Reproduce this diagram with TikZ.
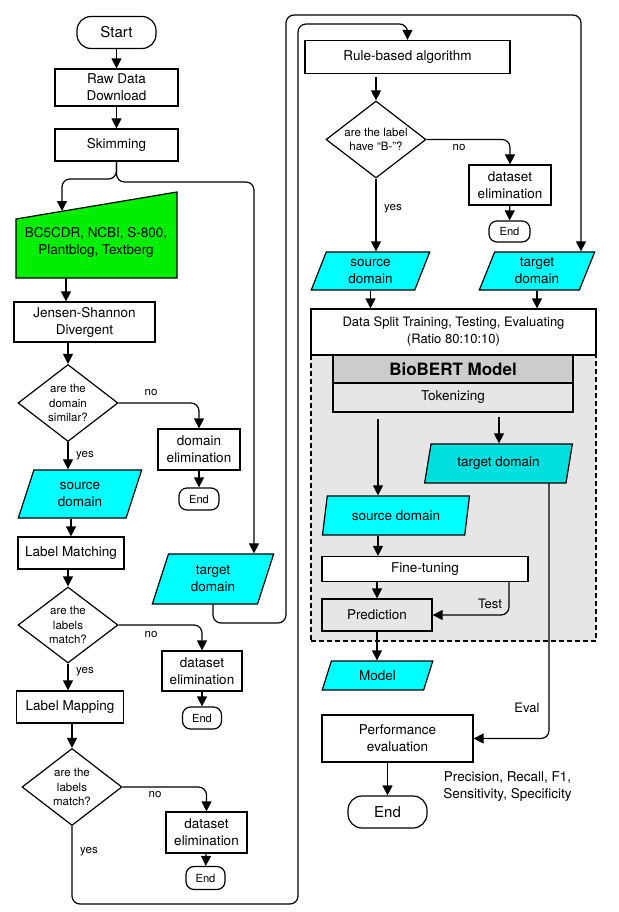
\documentclass[tikz,border=0pt]{standalone}
\usepackage{fontspec}
\setmainfont{TeX Gyre Heros}
\usetikzlibrary{shapes.geometric, arrows.meta}
\definecolor{cyanC}{RGB}{0,255,255}
\definecolor{cyanD}{RGB}{0,222,222}
\definecolor{greenC}{RGB}{0,238,0}
\definecolor{regionG}{RGB}{230,230,230}
\definecolor{headG}{RGB}{204,204,204}
\begin{document}
\begin{tikzpicture}[x=1pt,y=-1pt,
  base/.style={draw, line width=1.2pt, align=center, inner sep=0pt, font=\fontsize{13.5}{17}\selectfont},
  boxs/.style={base, rectangle, fill=white},
  term/.style={base, rectangle, fill=white},
  dia/.style={base, diamond, fill=white},
  para/.style={base, trapezium, trapezium left angle=73, trapezium right angle=107, trapezium stretches=true, fill=cyanC},
  arr/.style={line width=1.2pt, -{Triangle[length=10pt,width=10pt]}},
  rc/.style={rounded corners=8pt},
  lbl/.style={font=\fontsize{11.5}{14}\selectfont, inner sep=0pt},
  lblb/.style={font=\fontsize{13}{16}\selectfont, inner sep=0pt},
  dtext/.style={font=\fontsize{11.5}{14.5}\selectfont, align=center, inner sep=0pt},
  smallend/.style={term, rounded corners=8pt, font=\fontsize{11.2}{13}\selectfont},
  bigend/.style={term, rounded corners=14pt, minimum width=79pt, minimum height=32pt, font=\fontsize{15}{18}\selectfont},
]
\useasboundingbox (0,0) rectangle (618,912);

% ---------------- left column ----------------
\node[bigend] (start) at (116.5,32.5) {Start};
\node[boxs, minimum width=123pt, minimum height=37pt] (raw) at (116.5,87.5) {Raw Data\\Download};
\node[boxs, minimum width=123pt, minimum height=32pt] (skim) at (116.5,145) {Skimming};

\draw[line width=1.2pt, fill=greenC] (16,219) -- (177,192) -- (177,278) -- (16,278) -- cycle;
\node[font=\fontsize{13.5}{17}\selectfont, align=center, inner sep=0pt] (src) at (96,242) {BC5CDR, NCBI, S-800,\\Plantblog, Textberg};
\coordinate (gtop) at (62,211);
\coordinate (gbot) at (66,278);

\node[boxs, minimum width=141pt, minimum height=40pt] (js) at (84.5,322) {Jensen-Shannon\\Divergent};
\node[dia, minimum width=100pt, minimum height=77pt, label={[dtext]center:are the\\domain\\similar?}] (d1) at (68,403) {};
\node[boxs, minimum width=82pt, minimum height=41pt] (de1) at (199,449.5) {domain\\elimination};
\node[smallend, minimum width=40pt, minimum height=22pt] (e1) at (199,499) {End};
\node[para, minimum width=124pt, minimum height=48pt] (sd1) at (80,494) {source\\domain};
\node[boxs, minimum width=106pt, minimum height=32pt] (lm) at (71,553) {Label Matching};
\node[dia, minimum width=100pt, minimum height=76pt, label={[dtext]center:are the\\labels\\match?}] (d2) at (68,625) {};
\node[boxs, minimum width=80pt, minimum height=40pt] (de2) at (202,671) {dataset\\elimination};
\node[smallend, minimum width=39pt, minimum height=22pt] (e2) at (202,718) {End};
\node[boxs, minimum width=107pt, minimum height=32pt] (lmap) at (70,707) {Label Mapping};
\node[dia, minimum width=100pt, minimum height=77pt, label={[dtext]center:are the\\labels\\match?}] (d3) at (72,787) {};
\node[boxs, minimum width=81pt, minimum height=41pt] (de3) at (206.5,832.5) {dataset\\elimination};
\node[smallend, minimum width=39pt, minimum height=23pt] (e3) at (205.5,878) {End};
\node[para, minimum width=122pt, minimum height=50pt] (tdL) at (213,579) {target\\domain};

% ---------------- right column ----------------
\node[boxs, minimum width=205pt, minimum height=33pt] (rb) at (407.5,57) {Rule-based algorithm};
\node[dia, minimum width=100pt, minimum height=77pt, label={[dtext]center:are the label\\have “B-”?}] (d4) at (376,139.5) {};
\node[boxs, minimum width=82pt, minimum height=40pt] (de4) at (510,185) {dataset\\elimination};
\node[smallend, minimum width=41pt, minimum height=21pt] (e4) at (509.5,231.5) {End};
\node[para, minimum width=119pt, minimum height=38pt] (sdR) at (370.5,271) {source\\domain};
\node[para, minimum width=116pt, minimum height=38pt] (tdR) at (537,271) {target\\domain};

\node[draw, line width=1.2pt, dash pattern=on 5pt off 3pt, fill=regionG, minimum width=285pt, minimum height=286pt, inner sep=0pt] (reg) at (453.5,498) {};
\node[boxs, minimum width=285pt, minimum height=46pt, font=\fontsize{13}{17}\selectfont] (ds) at (453.5,332) {Data Split Training, Testing, Evaluating\\(Ratio 80:10:10)};
\node[base, fill=headG, minimum width=240pt, minimum height=27pt, font=\bfseries\fontsize{17}{20}\selectfont] (bert) at (453,369) {BioBERT Model};
\node[base, fill=regionG, minimum width=240pt, minimum height=29pt] (tok) at (453,397.5) {Tokenizing};
\node[para, fill=cyanD, minimum width=149pt, minimum height=39pt] (td2) at (498.5,463.5) {target domain};
\node[para, minimum width=148pt, minimum height=39pt] (sd2) at (396,515.5) {source domain};
\node[boxs, minimum width=206pt, minimum height=25pt] (ft) at (425,569) {Fine-tuning};
\node[base, fill=regionG, minimum width=110pt, minimum height=32pt] (pred) at (377,615) {Prediction};
\node[para, trapezium left angle=70, trapezium right angle=110, minimum width=111pt, minimum height=29pt] (model) at (377.5,675.5) {Model};
\node[boxs, minimum width=151pt, minimum height=47pt] (perf) at (397.5,738.5) {Performance\\evaluation};
\node[bigend] (endB) at (387.5,812) {End};
\node[font=\fontsize{13.5}{17}\selectfont, align=center, inner sep=0pt] (met) at (507.5,787) {Precision, Recall, F1,\\Sensitivity, Specificity};

% ---------------- labels ----------------
\node[lbl] (no1) at (151,392) {no};
\node[lbl] (yes1) at (85,456) {yes};
\node[lbl] (no2) at (151,634) {no};
\node[lbl] (yes2) at (85,672) {yes};
\node[lbl] (no3) at (155,794) {no};
\node[lbl] (yes3) at (89,852) {yes};
\node[lbl] (no4) at (459,147) {no};
\node[lbl] (yes4) at (393,209) {yes};
\node[lblb] (test) at (490,604) {Test};
\node[lblb] (eval) at (527,708) {Eval};

% ---------------- helper coordinates ----------------
\coordinate (sL) at (62,179);
\coordinate (sR) at (254,182);
\coordinate (o1) at (286,623);
\coordinate (o2) at (581,15);
\coordinate (i1) at (298,904);
\coordinate (i2) at (407.5,24);
\coordinate (r1) at (376,77);
\coordinate (t1) at (378,419);
\coordinate (t2) at (499,417);
\coordinate (f1) at (509,581.5);
\coordinate (g1) at (549,483);

% ---------------- connectors ----------------
\draw[arr] (start) -- (raw);
\draw[arr] (raw) -- (skim);
\draw[arr, rc] (skim.south) |- (sL) -- (gtop);
\draw[arr, rc] (skim.south) |- (sR) -- (tdL.north -| sR);
\draw[arr] (gbot) -- (gbot |- js.north);
\draw[arr] (js.south -| d1) -- (d1.north);
\draw[arr, rc] (d1.east) -| (de1.north);
\draw[arr] (de1) -- (e1);
\draw[arr] (d1.south) -- (d1.south |- sd1.north);
\draw[arr] (sd1.south -| lm) -- (lm.north);
\draw[arr] (lm.south -| d2) -- (d2.north);
\draw[arr, rc] (d2.east) -| (de2.north);
\draw[arr] (de2) -- (e2);
\draw[arr] (d2.south) -- (d2.south |- lmap.north);
\draw[arr] (lmap.south -| d3) -- (d3.north);
\draw[arr, rc] (d3.east) -| (de3.north);
\draw[arr] (de3) -- (e3);
\draw[arr, rc] (d3.south) |- (i1) |- (i2) -- (rb.north);
\draw[arr, rc] (tdL.south) |- (o1) |- (o2) -- (tdR.north -| o2);

\draw[arr] (r1) -- (d4.north);
\draw[arr, rc] (d4.east) -| (de4.north);
\draw[arr] (de4) -- (e4);
\draw[arr] (d4.south) -- (d4.south |- sdR.north);
\draw[arr] (sdR.south) -- (sdR.south |- ds.north);
\draw[arr] (tdR.south) -- (tdR.south |- ds.north);
\draw[arr] (t1) -- (t1 |- sd2.north);
\draw[arr] (t2) -- (t2 |- td2.north);
\draw[arr] (sd2.south -| t1) -- (ft.north -| t1);
\draw[arr] (ft.south -| pred) -- (pred.north);
\draw[arr, rc] (f1) |- (pred.east);
\draw[arr] (pred.south) -- (pred.south |- model.north);
\draw[arr, rc] (g1) |- (perf.east);
\draw[arr] (perf.south -| endB) -- (endB.north);
\end{tikzpicture}
\end{document}
